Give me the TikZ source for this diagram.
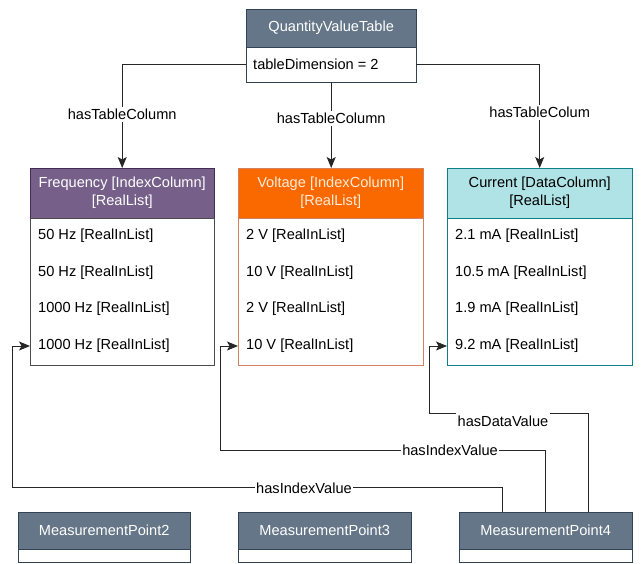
\documentclass[tikz,border=0pt]{standalone}
\usepackage{fontspec}
\setmainfont{Liberation Sans}
\usetikzlibrary{arrows.meta}

\definecolor{slate}{HTML}{647687}
\definecolor{slateline}{HTML}{314354}
\definecolor{purp}{HTML}{76608A}
\definecolor{purpline}{HTML}{432D57}
\definecolor{orng}{HTML}{FA6800}
\definecolor{orngline}{HTML}{D2825E}
\definecolor{cyan}{HTML}{B0E3E6}
\definecolor{cyanline}{HTML}{0E8088}

\begin{document}
\begin{tikzpicture}[x=1pt,y=-1pt,
    every node/.style={font=\fontsize{14.6}{18}\selectfont},
    hdr/.style={draw=slateline, fill=slate, text=white, anchor=north west, inner sep=0pt, align=center},
    bodybox/.style={draw=slateline, fill=white, anchor=north west, inner sep=0pt},
    row/.style={anchor=west, inner sep=0pt},
    lbl/.style={fill=white, inner xsep=1.5pt, inner ysep=2pt},
    link/.style={draw=black!85, line width=0.9pt},
    arr/.style={link, -{Stealth[length=11pt,width=9pt,inset=2.5pt]}}]

\useasboundingbox (0,0) rectangle (644,563);

% QuantityValueTable
\node[hdr, minimum width=170pt, minimum height=38pt] (qvt) at (246,9) {QuantityValueTable};
\node[bodybox, minimum width=170pt, minimum height=35pt] (qvtbody) at (246,47) {};
\node[row] (dim) at (253,64.5) {tableDimension = 2};

% Frequency column
\node[hdr, draw=purpline, fill=purp, minimum width=184pt, minimum height=50pt] (freq) at (30,168) {Frequency [IndexColumn]\\ {[RealList]}};
\node[bodybox, draw=black!70, minimum width=184pt, minimum height=147pt] (freqbody) at (30,218) {};
\node[row] (f1) at (38,236) {50 Hz [RealInList]};
\node[row] (f2) at (38,273) {50 Hz [RealInList]};
\node[row] (f3) at (38,309) {1000 Hz [RealInList]};
\node[row] (f4) at (38,346) {1000 Hz [RealInList]};

% Voltage column
\node[hdr, draw=orngline, fill=orng, text=white!85!orange, minimum width=185pt, minimum height=50pt] (volt) at (238,168) {Voltage [IndexColumn]\\ {[RealList]}};
\node[bodybox, draw=orngline, minimum width=185pt, minimum height=147pt] (voltbody) at (238,218) {};
\node[row] (v1) at (246,236) {2 V [RealInList]};
\node[row] (v2) at (246,273) {10 V [RealInList]};
\node[row] (v3) at (246,309) {2 V [RealInList]};
\node[row] (v4) at (246,346) {10 V [RealInList]};

% Current column
\node[hdr, draw=cyanline, fill=cyan, text=black, minimum width=185pt, minimum height=50pt] (curr) at (447,168) {Current [DataColumn]\\ {[RealList]}};
\node[bodybox, draw=cyanline, minimum width=185pt, minimum height=147pt] (currbody) at (447,218) {};
\node[row] (c1) at (455,236) {2.1 mA [RealInList]};
\node[row] (c2) at (455,273) {10.5 mA [RealInList]};
\node[row] (c3) at (455,309) {1.9 mA [RealInList]};
\node[row] (c4) at (455,346) {9.2 mA [RealInList]};

% Measurement points
\node[hdr, minimum width=172pt, minimum height=37pt] (mp2) at (18,512) {MeasurementPoint2};
\node[bodybox, minimum width=172pt, minimum height=13pt] (mp2body) at (18,549) {};
\node[hdr, minimum width=173pt, minimum height=37pt] (mp3) at (238,512) {MeasurementPoint3};
\node[bodybox, minimum width=173pt, minimum height=13pt] (mp3body) at (238,549) {};
\node[hdr, minimum width=173pt, minimum height=37pt] (mp4) at (459,512) {MeasurementPoint4};
\node[bodybox, minimum width=173pt, minimum height=13pt] (mp4body) at (459,549) {};

% hasTableColumn links
\draw[arr] (qvtbody.west) -| node[lbl, pos=0.74] (tc1) {hasTableColumn} (freq.north);
\draw[arr] (qvtbody.south) -- node[lbl, pos=0.42] (tc2) {hasTableColumn} (qvtbody.south |- volt.north);
\draw[arr] (qvtbody.east) -| node[lbl, pos=0.73] (tc3) {hasTableColum} (curr.north);

% value links from MeasurementPoint4
\coordinate (ia) at (12,487);
\coordinate (ib) at (220,450);
\coordinate (da) at (429,413);
\draw[arr] ([xshift=-43pt]mp4.north) |- (ia) |- (freqbody.west |- f4);
\draw[arr] (mp4.north) |- (ib) |- (voltbody.west |- v4);
\draw[arr] ([xshift=43pt]mp4.north) |- (da) |- (currbody.west |- c4);

% Text Node
\node[lbl] (iv1) at (304,488) {hasIndexValue};
% Text Node
\node[lbl] (iv2) at (450,450) {hasIndexValue};
% Text Node
\node[lbl, inner ysep=4pt] (dv) at (503,421) {hasDataValue};
\end{tikzpicture}
\end{document}
